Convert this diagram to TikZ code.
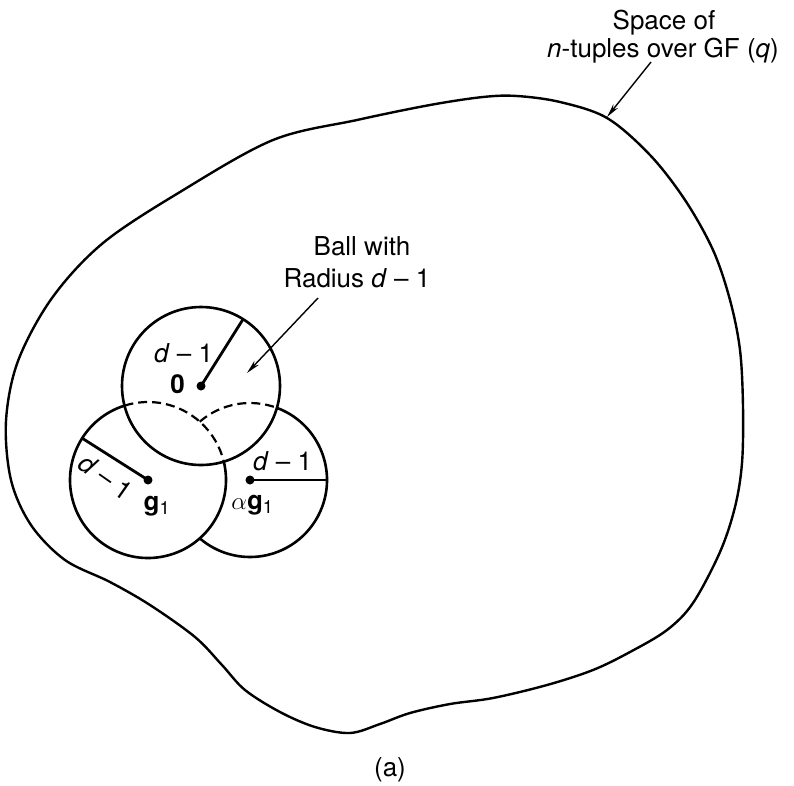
\documentclass[tikz,border=0pt]{standalone}
\usepackage{fontspec}
\setmainfont{TeX Gyre Heros}
\usetikzlibrary{arrows.meta}
\begin{document}
\begin{tikzpicture}[x=1pt,y=-1pt,
  ballline/.style={line width=2.6pt},
  dashline/.style={line width=2.2pt, dash pattern=on 9pt off 5pt},
  radline/.style={line width=2.8pt},
  ptr/.style={line width=1.4pt, -{Stealth[length=14pt,width=6pt]}},
  lbl/.style={font=\fontsize{26}{30}\selectfont, inner sep=0pt},
  dot/.style={circle, fill=black, inner sep=0pt, minimum size=9pt}]
\useasboundingbox (0,0) rectangle (794,785);
% outer space boundary
\draw[line width=2.4pt] plot[smooth cycle, tension=0.55] coordinates {
 (6,421) (11,480) (31,525) (65,560) (110,582) (150,605) (195,637) (222,665)
 (245,690) (280,712) (315,727) (350,733) (380,724) (410,713) (450,704)
 (493,698) (547,685) (593,670) (630,652) (667,630) (693,603) (720,552)
 (735,507) (742,463) (743,407) (740,350) (730,300) (713,250) (685,200)
 (650,155) (607,118) (560,102) (517,96) (483,97) (430,105) (357,120)
 (273,140) (180,192) (103,243) (52,298) (18,361)};
% centres
\coordinate (C0) at (201,386);
\coordinate (G) at (148,480);
\coordinate (A) at (250,480);
% balls
\draw[ballline] (C0) circle (79);
\draw[ballline] (G) ++(-13.61:78) arc[start angle=-13.61, end angle=252.45, radius=78];
\draw[dashline] (G) ++(-107.55:78) arc[start angle=-107.55, end angle=-13.61, radius=78];
\draw[ballline] (A) ++(-69.53:77) arc[start angle=-69.53, end angle=130.73, radius=77];
\draw[dashline] (A) ++(-130.73:77) arc[start angle=-130.73, end angle=-69.53, radius=77];
% radius ends
\path (C0) ++(-57.8:79) coordinate (C0e);
\path (G) ++(-147.6:78) coordinate (Ge);
\path (A) ++(0:77) coordinate (Ae);
% centre dots
\node[dot] (d0) at (C0) {};
\node[dot] (dg) at (G) {};
\node[dot] (da) at (A) {};
\draw[radline] (d0.center) -- (C0e);
\draw[radline] (dg.center) -- (Ge);
\draw[radline] (da.center) -- (Ae);
% labels
\node[lbl, anchor=base] (sp) at (664,29) {Space of};
\node[lbl, anchor=base] (nt) at (663,57) {\textit{n}-tuples over GF (\textit{q})};
\node[lbl, anchor=base] (bw) at (362,255) {Ball with};
\node[lbl, anchor=base] (rd) at (357,287) {Radius \textit{d} – 1};
\node[lbl, anchor=base] (l0) at (183.5,362) {\textit{d} – 1};
\node[lbl, anchor=base, font=\fontsize{26}{30}\selectfont\bfseries] (z) at (177.5,393) {0};
\node[lbl, rotate=-35] (lg) at (106,477) {\textit{d} – 1};
\node[lbl, anchor=base] (g1) at (157,510) {\textbf{g}\textsubscript{1}};
\node[lbl, anchor=base] (ag1) at (252.5,509) {$\alpha$\textbf{g}\textsubscript{1}};
\node[lbl, anchor=base] (la) at (282.5,470) {\textit{d} – 1};
\node[lbl, anchor=base] (cap) at (390,776) {(a)};
% pointers
\coordinate (sptail) at (651,62);
\coordinate (sptip) at (607,117);
\draw[ptr] (sptail) -- (sptip);
\coordinate (btail) at (318,298);
\coordinate (btip) at (247,373);
\draw[ptr] (btail) -- (btip);
\end{tikzpicture}
\end{document}
